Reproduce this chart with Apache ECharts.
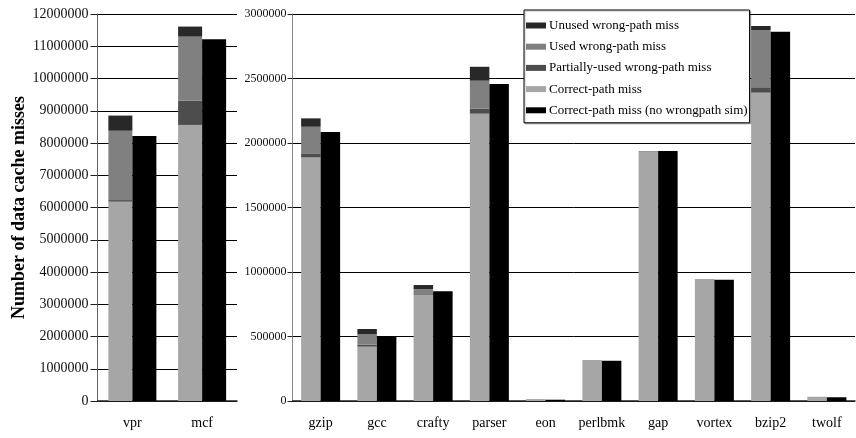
<!DOCTYPE html>
<html>
<head>
<meta charset="utf-8">
<script src="https://cdn.jsdelivr.net/npm/echarts@6/dist/echarts.min.js"></script>
<style>html,body{margin:0;padding:0;background:#fff}#c{width:856px;height:438px}</style>
</head>
<body>
<div id="c"></div>
<script>
var leftCats = ['vpr', 'mcf'];
var rightCats = ['gzip', 'gcc', 'crafty', 'parser', 'eon', 'perlbmk', 'gap', 'vortex', 'bzip2', 'twolf'];

var correctLeft = [6180000, 8560000];
var partialLeft = [50000, 750000];
var usedLeft = [2150000, 1990000];
var unusedLeft = [470000, 310000];
var noWrongLeft = [8220000, 11220000];

var correctRight = [1889000, 421000, 824000, 2227000, 15000, 318000, 1930000, 946000, 2390000, 33000];
var partialRight = [26000, 16000, 11000, 39000, 0, 0, 3000, 0, 42000, 0];
var usedRight = [211000, 80000, 33000, 217000, 0, 0, 5000, 0, 444000, 0];
var unusedRight = [65000, 41000, 31000, 108000, 0, 0, 0, 0, 31000, 0];
var noWrongRight = [2085000, 504000, 850000, 2457000, 10000, 312000, 1938000, 940000, 2863000, 29000];

var names = ['Unused wrong-path miss', 'Used wrong-path miss', 'Partially-used wrong-path miss', 'Correct-path miss', 'Correct-path miss (no wrongpath sim)'];
var colors = {
  'Unused wrong-path miss': '#282828',
  'Used wrong-path miss': '#808080',
  'Partially-used wrong-path miss': '#4d4d4d',
  'Correct-path miss': '#a6a6a6',
  'Correct-path miss (no wrongpath sim)': '#000000'
};
var FONT = '"Liberation Serif", "Times New Roman", serif';

function mk(name, data, idx, stack, bw) {
  var s = {
    name: name, type: 'bar', data: data, xAxisIndex: idx, yAxisIndex: idx,
    barWidth: bw, barGap: '0%', itemStyle: { color: colors[name] },
    emphasis: { disabled: true }, animation: false
  };
  if (stack) s.stack = stack;
  return s;
}
function plain(v) { return String(v); }

var chart = echarts.init(document.getElementById('c'), null, { renderer: 'canvas' });
var xCommon = function (cats, idx) {
  return {
    type: 'category', data: cats, gridIndex: idx,
    axisLine: { lineStyle: { color: '#222', width: 1.5 } },
    axisTick: { alignWithLabel: true, length: 6, lineStyle: { color: '#555' } },
    axisLabel: { fontFamily: FONT, fontSize: 14, color: '#000', margin: 15, interval: 0 }
  };
};
chart.setOption({
  animation: false,
  backgroundColor: '#fff',
  textStyle: { fontFamily: FONT },
  grid: [
    { left: 97.5, right: 619, top: 14, bottom: 37 },
    { left: 292.5, right: 1, top: 14, bottom: 37 }
  ],
  legend: {
    data: names.map(function (n) { return { name: n, icon: 'rect' }; }),
    orient: 'vertical', left: 524, top: 10, z: 20, zlevel: 1,
    itemWidth: 20, itemHeight: 6, itemGap: 8.2,
    padding: [9, 2, 6, 2],
    borderColor: '#000', borderWidth: 1, backgroundColor: '#fff',
    shadowColor: 'rgba(0,0,0,0.25)', shadowOffsetX: 1, shadowOffsetY: 1, shadowBlur: 1,
    textStyle: { fontFamily: FONT, fontSize: 13, color: '#000', padding: [0, 0, 0, -2] },
    selectedMode: false
  },
  xAxis: [xCommon(leftCats, 0), xCommon(rightCats, 1)],
  yAxis: [
    {
      type: 'value', gridIndex: 0, min: 0, max: 12000000, interval: 1000000,
      name: 'Number of data cache misses', nameLocation: 'middle', nameRotate: 90, nameGap: 64,
      nameTextStyle: { fontFamily: FONT, fontSize: 18, fontWeight: 'bold', color: '#000' },
      axisLine: { show: true, lineStyle: { color: '#666', width: 1 } },
      axisTick: { show: true, length: 7, lineStyle: { color: '#222' } },
      axisLabel: { fontFamily: FONT, fontSize: 14, color: '#111', margin: 9, formatter: plain },
      splitLine: { lineStyle: { color: '#000', width: 1 } }
    },
    {
      type: 'value', gridIndex: 1, min: 0, max: 3000000, interval: 500000,
      axisLine: { show: true, lineStyle: { color: '#888', width: 1 } },
      axisTick: { show: true, length: 5, lineStyle: { color: '#222' } },
      axisLabel: { fontFamily: FONT, fontSize: 12, color: '#111', margin: 6, formatter: plain },
      splitLine: { lineStyle: { color: '#000', width: 1 } }
    }
  ],
  series: [
    mk('Correct-path miss', correctLeft, 0, 'L', 24),
    mk('Partially-used wrong-path miss', partialLeft, 0, 'L', 24),
    mk('Used wrong-path miss', usedLeft, 0, 'L', 24),
    mk('Unused wrong-path miss', unusedLeft, 0, 'L', 24),
    mk('Correct-path miss (no wrongpath sim)', noWrongLeft, 0, null, 24),
    mk('Correct-path miss', correctRight, 1, 'R', 19.5),
    mk('Partially-used wrong-path miss', partialRight, 1, 'R', 19.5),
    mk('Used wrong-path miss', usedRight, 1, 'R', 19.5),
    mk('Unused wrong-path miss', unusedRight, 1, 'R', 19.5),
    mk('Correct-path miss (no wrongpath sim)', noWrongRight, 1, null, 19.5)
  ]
});
</script>
</body>
</html>
